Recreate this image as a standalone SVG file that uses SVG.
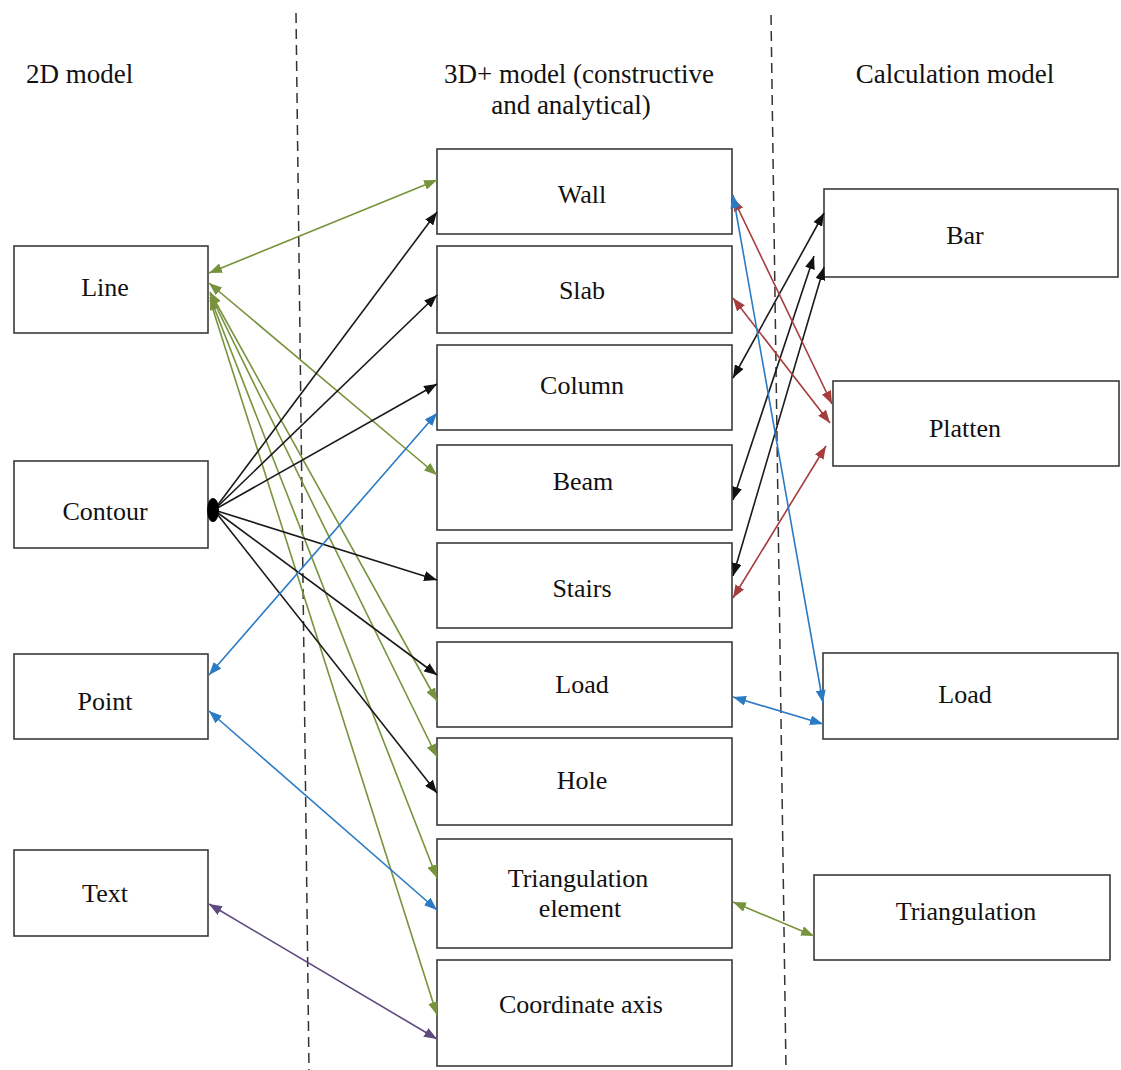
<svg xmlns="http://www.w3.org/2000/svg" width="1121" height="1070" viewBox="0 0 1121 1070">
<style>
.box{fill:#fff;stroke:#3a3a3a;stroke-width:1.6}
.t{font-family:"Liberation Serif","Times New Roman",serif;font-size:26px;fill:#111;text-anchor:middle}
.h{font-family:"Liberation Serif","Times New Roman",serif;font-size:27px;fill:#111}
.dash{stroke:#333;stroke-width:1.5;stroke-dasharray:10 6;fill:none}
.g{stroke:#77933c;stroke-width:1.6;fill:none}
.k{stroke:#1a1a1a;stroke-width:1.6;fill:none}
.b{stroke:#2a7ac4;stroke-width:1.6;fill:none}
.r{stroke:#a63c3c;stroke-width:1.6;fill:none}
.p{stroke:#5f4a7f;stroke-width:1.6;fill:none}
</style>
<defs>
<marker id="ag" markerUnits="userSpaceOnUse" markerWidth="13" markerHeight="10" refX="13" refY="5" orient="auto-start-reverse"><path d="M0,0 L13,5 L0,10 z" fill="#77933c"/></marker>
<marker id="ak" markerUnits="userSpaceOnUse" markerWidth="13" markerHeight="10" refX="13" refY="5" orient="auto-start-reverse"><path d="M0,0 L13,5 L0,10 z" fill="#111"/></marker>
<marker id="ab" markerUnits="userSpaceOnUse" markerWidth="13" markerHeight="10" refX="13" refY="5" orient="auto-start-reverse"><path d="M0,0 L13,5 L0,10 z" fill="#2a7ac4"/></marker>
<marker id="ar" markerUnits="userSpaceOnUse" markerWidth="13" markerHeight="10" refX="13" refY="5" orient="auto-start-reverse"><path d="M0,0 L13,5 L0,10 z" fill="#a63c3c"/></marker>
<marker id="ap" markerUnits="userSpaceOnUse" markerWidth="13" markerHeight="10" refX="13" refY="5" orient="auto-start-reverse"><path d="M0,0 L13,5 L0,10 z" fill="#5f4a7f"/></marker>
</defs>
<rect width="1121" height="1070" fill="#fff"/>

<g id="dividers">
<line class="dash" x1="296" y1="13" x2="309" y2="1070"/>
<line class="dash" x1="771" y1="15" x2="786" y2="1070"/>
</g>

<g id="headers">
<text class="h" x="26" y="83">2D model</text>
<text class="h" x="579" y="83" text-anchor="middle">3D+ model (constructive</text>
<text class="h" x="571" y="114" text-anchor="middle">and analytical)</text>
<text class="h" x="955" y="83" text-anchor="middle">Calculation model</text>
</g>

<g id="n-line"><rect class="box" x="14" y="246" width="194" height="87"/><text class="t" x="105" y="296">Line</text></g>
<g id="n-contour"><rect class="box" x="14" y="461" width="194" height="87"/><text class="t" x="105" y="520">Contour</text></g>
<g id="n-point"><rect class="box" x="14" y="654" width="194" height="85"/><text class="t" x="105" y="710">Point</text></g>
<g id="n-text"><rect class="box" x="14" y="850" width="194" height="86"/><text class="t" x="105" y="902">Text</text></g>

<g id="n-wall"><rect class="box" x="437" y="149" width="295" height="85"/><text class="t" x="582" y="203">Wall</text></g>
<g id="n-slab"><rect class="box" x="437" y="246" width="295" height="87"/><text class="t" x="582" y="299">Slab</text></g>
<g id="n-column"><rect class="box" x="437" y="345" width="295" height="85"/><text class="t" x="582" y="394">Column</text></g>
<g id="n-beam"><rect class="box" x="437" y="445" width="295" height="85"/><text class="t" x="583" y="490">Beam</text></g>
<g id="n-stairs"><rect class="box" x="437" y="543" width="295" height="85"/><text class="t" x="582" y="597">Stairs</text></g>
<g id="n-load3d"><rect class="box" x="437" y="642" width="295" height="85"/><text class="t" x="582" y="693">Load</text></g>
<g id="n-hole"><rect class="box" x="437" y="738" width="295" height="87"/><text class="t" x="582" y="789">Hole</text></g>
<g id="n-trielem"><rect class="box" x="437" y="839" width="295" height="109"/><text class="t" x="578" y="887">Triangulation</text><text class="t" x="580" y="917">element</text></g>
<g id="n-axis"><rect class="box" x="437" y="960" width="295" height="106"/><text class="t" x="581" y="1013">Coordinate axis</text></g>

<g id="n-bar"><rect class="box" x="824" y="189" width="294" height="88"/><text class="t" x="965" y="244">Bar</text></g>
<g id="n-platten"><rect class="box" x="833" y="381" width="286" height="85"/><text class="t" x="965" y="437">Platten</text></g>
<g id="n-loadcalc"><rect class="box" x="823" y="653" width="295" height="86"/><text class="t" x="965" y="703">Load</text></g>
<g id="n-triang"><rect class="box" x="814" y="875" width="296" height="85"/><text class="t" x="966" y="920">Triangulation</text></g>

<g id="connectors">
<!-- green from Line -->
<line class="g" x1="209" y1="273" x2="437" y2="180" marker-start="url(#ag)" marker-end="url(#ag)"/>
<line class="g" x1="209" y1="283" x2="437" y2="475" marker-start="url(#ag)" marker-end="url(#ag)"/>
<line class="g" x1="210" y1="292" x2="437" y2="701" marker-start="url(#ag)" marker-end="url(#ag)"/>
<line class="g" x1="210" y1="294" x2="437" y2="757" marker-end="url(#ag)"/>
<line class="g" x1="210" y1="297" x2="437" y2="878" marker-start="url(#ag)" marker-end="url(#ag)"/>
<line class="g" x1="210" y1="300" x2="437" y2="1015" marker-end="url(#ag)"/>
<!-- black from Contour -->
<line class="k" x1="214" y1="510" x2="437" y2="212" marker-end="url(#ak)"/>
<line class="k" x1="214" y1="510" x2="437" y2="295" marker-end="url(#ak)"/>
<line class="k" x1="214" y1="510" x2="437" y2="384" marker-end="url(#ak)"/>
<line class="k" x1="214" y1="510" x2="437" y2="580" marker-end="url(#ak)"/>
<line class="k" x1="214" y1="510" x2="437" y2="675" marker-end="url(#ak)"/>
<line class="k" x1="214" y1="510" x2="437" y2="793" marker-end="url(#ak)"/>
<ellipse cx="213" cy="510" rx="6" ry="12" fill="#000"/>
<!-- blue from Point -->
<line class="b" x1="209" y1="675" x2="437" y2="413" marker-start="url(#ab)" marker-end="url(#ab)"/>
<line class="b" x1="209" y1="711" x2="437" y2="910" marker-start="url(#ab)" marker-end="url(#ab)"/>
<!-- purple Text - axis -->
<line class="p" x1="209" y1="904" x2="437" y2="1039" marker-start="url(#ap)" marker-end="url(#ap)"/>
<!-- right side black -->
<line class="k" x1="733" y1="378" x2="824" y2="213" marker-start="url(#ak)" marker-end="url(#ak)"/>
<line class="k" x1="733" y1="500" x2="814" y2="256" marker-start="url(#ak)" marker-end="url(#ak)"/>
<line class="k" x1="733" y1="576" x2="824" y2="267" marker-start="url(#ak)" marker-end="url(#ak)"/>
<!-- right side red -->
<line class="r" x1="733" y1="198" x2="832" y2="404" marker-start="url(#ar)" marker-end="url(#ar)"/>
<line class="r" x1="733" y1="298" x2="830" y2="423" marker-start="url(#ar)" marker-end="url(#ar)"/>
<line class="r" x1="733" y1="598" x2="826" y2="446" marker-start="url(#ar)" marker-end="url(#ar)"/>
<!-- right side blue -->
<line class="b" x1="733" y1="195" x2="823" y2="703" marker-start="url(#ab)" marker-end="url(#ab)"/>
<line class="b" x1="733" y1="697" x2="823" y2="724" marker-start="url(#ab)" marker-end="url(#ab)"/>
<!-- green triangulation -->
<line class="g" x1="733" y1="902" x2="814" y2="936" marker-start="url(#ag)" marker-end="url(#ag)"/>
</g>
</svg>
